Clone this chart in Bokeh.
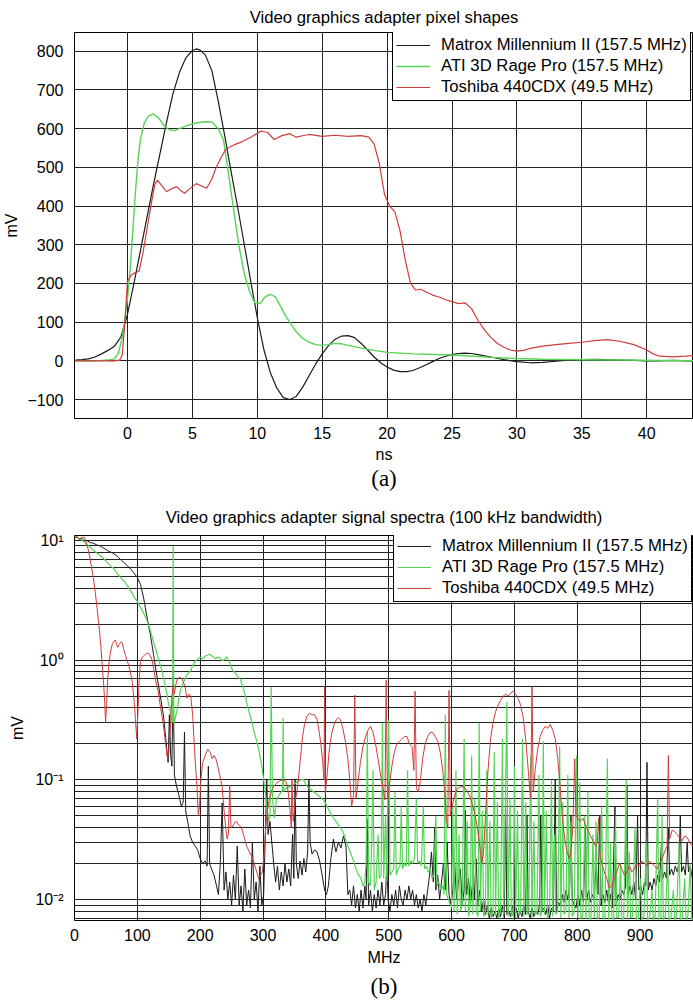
from bokeh.plotting import figure
from bokeh.models import (FixedTicker, Legend, LegendItem, Title, Range1d,
                          CustomJSTickFormatter)
from bokeh.layouts import column
from bokeh.embed import file_html
from bokeh.resources import INLINE

FONT = "Liberation Sans"
SERIF = "Liberation Serif"
BLACK = "#1a1a1a"
GREEN = "#55d455"
RED = "#d03c3c"

# ---------------- (a) pixel shapes: time (ns) vs mV ----------------
matrox_t = [-4, -3.5, -3, -2.5, -2, -1.5, -1, -0.5, 0, 0.5, 1, 1.5, 2, 2.5, 3, 3.5, 4, 4.5, 5, 5.3,
            5.6, 6, 6.5, 7, 7.5, 8, 8.5, 9, 9.5, 10, 10.5, 11, 11.5, 12, 12.5, 13, 13.5, 14, 14.5, 15,
            15.5, 16, 16.5, 17, 17.5, 18, 18.5, 19, 19.5, 20, 20.5, 21, 21.5, 22, 22.5, 23, 23.5, 24,
            24.5, 25, 25.5, 26, 26.5, 27, 28, 29, 30, 31, 32, 33, 34, 35, 36, 37, 38, 39, 40, 41, 42,
            43, 44]
matrox_mv = [2, 3, 5, 10, 18, 27, 38, 62, 120, 200, 285, 370, 455, 535, 615, 690, 745, 783, 802, 806,
             803, 790, 750, 670, 580, 486, 395, 300, 205, 112, 30, -30, -70, -95, -100, -92, -68, -38, -8, 18,
             40, 56, 64, 65, 60, 45, 28, 10, -5, -16, -24, -28, -28, -25, -18, -10, -2, 6,
             12, 16, 19, 20, 19, 16, 10, 3, -2, -5, -4, -1, 2, 3, 4, 3, 2, 1, 0, 0, 1,
             0, 0]

ati_t = [-4, -3, -2, -1.5, -1, -0.7, -0.4, -0.2, 0, 0.2, 0.4, 0.6, 0.8, 1, 1.3, 1.6, 2, 2.4, 2.8, 3.2,
         3.6, 4, 4.5, 5, 5.5, 6, 6.5, 7, 7.4, 7.8, 8.2, 8.6, 9, 9.4, 9.8, 10.2, 10.6, 11, 11.4, 11.8,
         12.2, 12.6, 13, 13.5, 14, 14.5, 15, 15.5, 16, 16.5, 17, 18, 19, 20, 21, 22, 23, 24, 25, 26,
         28, 30, 32, 35, 38, 41, 44]
ati_mv = [0, 0, 1, 2, 5, 20, 60, 110, 160, 235, 330, 430, 515, 573, 615, 632, 638, 628, 608, 597,
          595, 600, 607, 612, 616, 618, 617, 600, 570, 480, 385, 295, 225, 180, 150, 148, 165, 172, 165, 140,
          115, 95, 75, 58, 48, 42, 40, 42, 45, 44, 40, 33, 27, 22, 20, 18, 17, 16, 15, 13,
          9, 6, 4, 3, 2, 1, 0]

toshiba_t = [-4, -3, -2, -1, -0.6, -0.4, -0.2, 0, 0.3, 0.6, 0.9, 1.2, 1.5, 1.8, 2.1, 2.3, 2.6, 3.0, 3.4,
             3.8, 4.1, 4.4, 4.8, 5.3, 5.7, 6.1, 6.5, 6.8, 7.2, 7.6, 8.2, 8.8, 9.5, 10.3, 10.8, 11.3, 11.9,
             12.5, 13, 13.4, 14, 15, 16, 17, 18, 18.6, 19, 19.4, 19.8, 20.2, 20.6, 21, 21.4, 21.8, 22.2,
             22.6, 23, 23.5, 24, 24.5, 25, 25.5, 26, 26.5, 27, 27.5, 28, 28.5, 29, 29.5, 30, 30.5, 31,
             32, 33, 34, 35, 36, 37, 38, 39, 40, 40.5, 41, 42, 43, 44]
toshiba_mv = [0, 0, 0, 0, 2, 15, 100, 205, 222, 228, 232, 280, 340, 400, 455, 467, 455, 437, 445,
              450, 440, 433, 445, 458, 452, 446, 470, 497, 525, 548, 558, 566, 578, 594, 590, 572, 582,
              587, 578, 581, 585, 580, 583, 580, 582, 578, 560, 510, 430, 400, 385, 335, 260, 200, 183,
              185, 178, 170, 165, 158, 153, 148, 150, 135, 105, 80, 60, 45, 35, 28, 25, 27, 32,
              38, 42, 45, 48, 52, 55, 50, 42, 28, 18, 12, 10, 12, 15]

x_ticks_a = [0, 5, 10, 15, 20, 25, 30, 35, 40]
y_ticks_a = [-100, 0, 100, 200, 300, 400, 500, 600, 700, 800]

# ---------------- (b) spectra: (MHz, mV) ----------------
matrox_spec = [
    (0, 10.5), (4, 10.8), (8, 10.2), (12, 10.4), (16, 9.9), (20, 10.0), (25, 9.6), (30, 9.5), (35, 9.2),
    (41, 9.0), (47, 8.6), (53, 8.2), (60, 7.9), (68, 7.4), (75, 6.8), (82, 6.3), (88, 5.9), (94, 5.4),
    (100, 4.9), (105, 4.3), (110, 3.3), (116, 2.2), (121, 1.6), (126, 1.1), (130, 0.8), (134, 0.6),
    (138, 0.45), (142, 0.33), (146, 0.2), (149, 0.14), (151, 0.35), (153, 0.16), (155, 0.13), (157, 0.7),
    (159, 0.11), (162, 0.09), (166, 0.075), (170, 0.06), (173, 0.065), (175, 0.25), (177, 0.055),
    (180, 0.045), (184, 0.034), (188, 0.03), (192, 0.028), (196, 0.026), (200, 0.022), (204, 0.02),
    (208, 0.021), (211, 0.019), (213, 0.13), (215, 0.02), (218, 0.018), (222, 0.016), (226, 0.013),
    (229, 0.011), (232, 0.02), (235, 0.064), (238, 0.012), (241, 0.017), (244, 0.01), (247, 0.014),
    (250, 0.009), (253, 0.016), (256, 0.01), (259, 0.028), (262, 0.009), (265, 0.013), (268, 0.008),
    (271, 0.018), (274, 0.009), (277, 0.012), (280, 0.0085), (283, 0.03), (286, 0.01), (289, 0.014),
    (292, 0.008), (295, 0.019), (298, 0.009), (301, 0.011), (304, 0.04), (306, 0.1), (308, 0.035),
    (311, 0.045), (314, 0.03), (317, 0.02), (320, 0.014), (323, 0.019), (326, 0.012), (329, 0.017),
    (332, 0.013), (335, 0.02), (338, 0.014), (341, 0.018), (344, 0.013), (347, 0.035), (349, 0.015),
    (351, 0.1), (353, 0.02), (356, 0.015), (359, 0.021), (362, 0.016), (365, 0.022), (368, 0.017),
    (371, 0.025), (373, 0.1), (375, 0.03), (378, 0.024), (382, 0.026), (386, 0.025), (390, 0.021),
    (394, 0.016), (398, 0.012), (401, 0.011), (404, 0.013), (408, 0.022), (412, 0.032), (416, 0.025),
    (420, 0.03), (424, 0.027), (428, 0.034), (432, 0.028), (435, 0.011), (438, 0.012), (441, 0.009),
    (444, 0.013), (447, 0.0085), (450, 0.011), (453, 0.008), (456, 0.012), (459, 0.0085), (462, 0.013),
    (464, 0.01), (466, 0.047), (468, 0.009), (471, 0.012), (474, 0.008), (477, 0.011), (480, 0.0085),
    (483, 0.012), (486, 0.009), (489, 0.014), (492, 0.009), (495, 0.011), (497, 0.02), (499, 0.01),
    (502, 0.008), (505, 0.011), (508, 0.009), (511, 0.012), (514, 0.0085), (517, 0.013), (520, 0.01),
    (523, 0.009), (526, 0.012), (529, 0.01), (532, 0.013), (535, 0.01), (538, 0.012), (541, 0.009),
    (544, 0.011), (547, 0.0085), (550, 0.01), (553, 0.008), (556, 0.011), (559, 0.009), (562, 0.012),
    (565, 0.016), (568, 0.025), (571, 0.014), (573, 0.04), (575, 0.012), (578, 0.016), (581, 0.01),
    (584, 0.014), (587, 0.02), (590, 0.012), (593, 0.03), (596, 0.011), (599, 0.009), (602, 0.012),
    (605, 0.02), (608, 0.01), (611, 0.014), (614, 0.018), (617, 0.009), (620, 0.012), (622, 0.056),
    (624, 0.011), (627, 0.015), (630, 0.009), (633, 0.013), (636, 0.01), (639, 0.022), (642, 0.009),
    (645, 0.012), (648, 0.008), (651, 0.01), (654, 0.0075), (657, 0.009), (660, 0.007), (663, 0.0085),
    (666, 0.0072), (669, 0.008), (672, 0.007), (675, 0.0085), (678, 0.0072), (681, 0.009), (684, 0.007),
    (686, 0.07), (688, 0.0075), (691, 0.008), (694, 0.0072), (697, 0.009), (700, 0.007), (703, 0.0085),
    (706, 0.007), (709, 0.008), (712, 0.0072), (715, 0.009), (718, 0.0075), (720, 0.05), (722, 0.008),
    (725, 0.007), (728, 0.0085), (731, 0.0072), (734, 0.008), (737, 0.0075), (740, 0.009), (742, 0.05),
    (744, 0.008), (747, 0.0085), (750, 0.0075), (753, 0.009), (756, 0.007), (759, 0.0085), (762, 0.008),
    (765, 0.1), (767, 0.008), (770, 0.0095), (773, 0.009), (776, 0.011), (779, 0.0095), (782, 0.012),
    (785, 0.01), (788, 0.013), (790, 0.05), (792, 0.01), (795, 0.009), (798, 0.0085), (801, 0.011),
    (804, 0.009), (807, 0.012), (810, 0.0095), (813, 0.04), (815, 0.01), (818, 0.012), (821, 0.0095),
    (824, 0.011), (827, 0.01), (830, 0.02), (833, 0.011), (836, 0.05), (838, 0.009), (841, 0.011),
    (844, 0.0095), (847, 0.012), (850, 0.009), (853, 0.011), (856, 0.0085), (860, 0.06), (862, 0.009),
    (865, 0.011), (868, 0.01), (871, 0.012), (874, 0.011), (877, 0.013), (879, 0.09), (881, 0.011),
    (884, 0.013), (887, 0.011), (890, 0.014), (893, 0.01), (896, 0.05), (898, 0.012), (901, 0.013),
    (904, 0.011), (907, 0.014), (909, 0.013), (911, 0.14), (913, 0.012), (916, 0.014), (919, 0.012),
    (922, 0.015), (925, 0.013), (928, 0.016), (931, 0.014), (934, 0.03), (936, 0.015), (939, 0.017),
    (942, 0.015), (945, 0.04), (947, 0.016), (950, 0.018), (953, 0.016), (956, 0.019), (959, 0.017),
    (962, 0.02), (964, 0.05), (966, 0.017), (969, 0.019), (972, 0.016), (975, 0.03), (977, 0.017),
    (980, 0.019), (983, 0.015), (985, 0.016),
]

ati_spec = [
    (0, 10.8), (5, 10.5), (10, 10.2), (15, 9.8), (20, 9.2), (25, 8.8), (30, 8.3), (35, 7.9), (41, 7.5),
    (47, 7.0), (53, 6.5), (58, 6.1), (63, 5.8), (69, 5.2), (75, 4.8), (80, 4.5), (84, 4.2), (88, 3.9),
    (92, 3.6), (96, 3.3), (100, 3.1), (104, 2.8), (108, 2.6), (112, 2.35), (116, 2.1), (121, 1.75),
    (126, 1.4), (130, 1.2), (134, 1.0), (137, 0.9), (140, 0.78), (143, 0.66), (146, 0.56), (149, 0.45),
    (152, 0.38), (154, 0.33), (156, 0.3), (157, 9.0), (158, 0.3), (160, 0.32), (163, 0.38), (166, 0.47),
    (169, 0.57), (172, 0.63), (175, 0.68), (178, 0.74), (181, 0.78), (185, 0.82), (188, 0.9), (191, 0.96),
    (194, 1.0), (197, 1.03), (200, 1.06), (203, 1.03), (206, 1.05), (209, 1.09), (212, 1.1), (215, 1.12),
    (218, 1.09), (221, 1.06), (224, 1.03), (227, 1.05), (230, 1.06), (233, 1.02), (236, 0.99), (239, 1.02),
    (242, 1.07), (245, 1.0), (248, 0.92), (251, 0.84), (254, 0.8), (257, 0.77), (260, 0.73), (264, 0.69),
    (268, 0.6), (272, 0.5), (275, 0.42), (279, 0.35), (283, 0.29), (287, 0.24), (290, 0.21), (294, 0.17),
    (297, 0.14), (300, 0.11), (303, 0.085), (306, 0.06), (309, 0.045), (311, 0.05), (313, 0.6), (315, 0.07),
    (318, 0.048), (321, 0.066), (325, 0.074), (329, 0.079), (331, 0.082), (332, 0.33), (333, 0.08),
    (336, 0.085), (340, 0.086), (344, 0.089), (348, 0.091), (352, 0.094), (356, 0.098), (360, 0.1),
    (364, 0.101), (368, 0.092), (372, 0.086), (376, 0.083), (380, 0.08), (384, 0.077), (388, 0.074),
    (392, 0.071), (396, 0.068), (400, 0.063), (404, 0.057), (408, 0.052), (412, 0.048), (416, 0.045),
    (420, 0.042), (424, 0.039), (428, 0.036), (432, 0.031), (436, 0.027), (440, 0.024), (444, 0.021),
    (448, 0.018), (452, 0.016), (456, 0.015), (459, 0.013), (462, 0.014), (464, 0.02), (466, 0.25),
    (468, 0.014), (471, 0.013), (473, 0.03), (475, 0.12), (477, 0.012), (480, 0.014), (483, 0.035),
    (485, 0.015), (488, 0.016), (490, 0.3), (492, 0.015), (495, 0.05), (497, 0.014), (500, 0.32),
    (502, 0.016), (505, 0.017), (508, 0.018), (510, 0.08), (512, 0.016), (515, 0.018), (518, 0.019),
    (520, 0.06), (522, 0.018), (525, 0.02), (528, 0.019), (530, 0.12), (532, 0.019), (535, 0.021),
    (538, 0.02), (541, 0.022), (544, 0.07), (546, 0.02), (549, 0.021), (552, 0.019), (555, 0.06),
    (557, 0.018), (560, 0.019), (563, 0.017), (566, 0.018), (569, 0.015), (572, 0.016), (575, 0.05),
    (577, 0.013), (580, 0.014), (583, 0.012), (586, 0.013), (588, 0.011), (590, 0.35), (592, 0.011),
    (595, 0.01), (598, 0.009), (600, 0.0085), (602, 0.06), (604, 0.008), (607, 0.12), (609, 0.0075),
    (612, 0.035), (614, 0.008), (617, 0.009), (620, 0.22), (622, 0.008), (625, 0.045), (627, 0.0072),
    (630, 0.009), (632, 0.16), (634, 0.0075), (637, 0.07), (639, 0.008), (642, 0.0072), (644, 0.3),
    (646, 0.008), (649, 0.055), (651, 0.0072), (654, 0.008), (656, 0.12), (658, 0.0075), (661, 0.045),
    (663, 0.007), (666, 0.008), (668, 0.17), (670, 0.0075), (673, 0.065), (675, 0.007), (678, 0.008),
    (681, 0.22), (683, 0.0075), (686, 0.08), (688, 0.45), (690, 0.0072), (693, 0.07), (695, 0.008),
    (698, 0.0072), (700, 0.13), (702, 0.007), (705, 0.055), (707, 0.0075), (710, 0.008), (713, 0.22),
    (715, 0.0072), (718, 0.065), (720, 0.0075), (723, 0.008), (726, 0.16), (728, 0.007), (731, 0.045),
    (733, 0.0075), (736, 0.008), (739, 0.11), (741, 0.0072), (744, 0.008), (746, 0.21), (748, 0.0075),
    (751, 0.055), (753, 0.007), (756, 0.0078), (759, 0.1), (761, 0.0072), (764, 0.035), (766, 0.0075),
    (769, 0.008), (772, 0.19), (774, 0.007), (777, 0.065), (779, 0.0075), (782, 0.008), (785, 0.11),
    (787, 0.007), (790, 0.045), (792, 0.0072), (795, 0.0078), (799, 0.16), (801, 0.007), (804, 0.095),
    (806, 0.0068), (809, 0.0075), (812, 0.05), (814, 0.0068), (817, 0.08), (819, 0.007), (822, 0.0068),
    (825, 0.035), (827, 0.007), (830, 0.045), (832, 0.0068), (835, 0.0072), (839, 0.06), (841, 0.0068),
    (844, 0.0072), (848, 0.15), (850, 0.0068), (853, 0.03), (855, 0.007), (858, 0.0068), (861, 0.05),
    (863, 0.007), (866, 0.0072), (869, 0.02), (871, 0.0068), (874, 0.007), (878, 0.1), (880, 0.0068),
    (883, 0.025), (885, 0.007), (888, 0.0072), (892, 0.04), (894, 0.0068), (897, 0.007), (901, 0.015),
    (903, 0.0068), (906, 0.0072), (910, 0.03), (912, 0.0068), (915, 0.007), (919, 0.012), (921, 0.0068),
    (924, 0.0072), (928, 0.07), (930, 0.0068), (933, 0.007), (935, 0.05), (937, 0.0068), (940, 0.0072),
    (944, 0.02), (946, 0.0068), (949, 0.007), (953, 0.012), (955, 0.0068), (958, 0.0072), (962, 0.03),
    (964, 0.0068), (967, 0.007), (971, 0.015), (973, 0.0068), (976, 0.0072), (980, 0.02), (982, 0.0068),
    (985, 0.007),
]

toshiba_spec = [
    (0, 10.4), (4, 10.7), (8, 10.3), (12, 10.6), (15, 10.7), (18, 10.0), (21, 8.8), (24, 7.4), (27, 6.0),
    (30, 4.9), (33, 3.7), (36, 2.7), (39, 1.95), (42, 1.3), (44, 0.92), (46, 0.68), (48, 0.45), (49.5, 0.3),
    (51, 0.42), (53, 0.72), (55, 0.95), (57, 1.15), (60, 1.35), (63, 1.45), (65, 1.47), (67, 1.35),
    (69, 1.28), (71, 1.36), (74, 1.42), (76, 1.4), (78, 1.25), (81, 1.1), (85, 0.95), (89, 0.8), (92, 0.65),
    (95, 0.45), (97, 0.32), (99, 0.22), (101, 0.38), (103, 0.7), (105, 0.98), (108, 1.06), (111, 1.1),
    (114, 1.13), (117, 1.15), (120, 1.1), (123, 1.02), (126, 0.85), (129, 0.68), (133, 0.55), (137, 0.4),
    (141, 0.3), (145, 0.2), (148, 0.15), (150, 0.17), (153, 0.3), (155, 0.5), (157, 0.62), (159, 0.52),
    (161, 0.62), (164, 0.7), (167, 0.72), (170, 0.71), (173, 0.66), (176, 0.6), (179, 0.48), (182, 0.52),
    (185, 0.5), (188, 0.35), (191, 0.18), (193, 0.12), (195, 0.088), (197, 0.05), (199, 0.06), (201, 0.1),
    (204, 0.14), (208, 0.16), (212, 0.18), (216, 0.17), (219, 0.15), (222, 0.16), (225, 0.15), (228, 0.13),
    (231, 0.11), (235, 0.087), (238, 0.055), (241, 0.038), (243, 0.032), (245, 0.036), (247, 0.09),
    (249, 0.04), (252, 0.041), (255, 0.044), (258, 0.045), (261, 0.042), (264, 0.041), (267, 0.038),
    (270, 0.033), (274, 0.028), (278, 0.025), (282, 0.023), (286, 0.02), (290, 0.017), (293, 0.015),
    (296, 0.016), (299, 0.017), (302, 0.025), (305, 0.045), (308, 0.06), (311, 0.072), (314, 0.082),
    (317, 0.088), (321, 0.093), (325, 0.097), (329, 0.099), (333, 0.1), (337, 0.096), (340, 0.08),
    (343, 0.055), (345, 0.04), (346, 0.1), (348, 0.045), (351, 0.065), (354, 0.08), (357, 0.11),
    (360, 0.16), (363, 0.23), (366, 0.29), (370, 0.34), (374, 0.36), (378, 0.35), (382, 0.35), (386, 0.32),
    (389, 0.26), (392, 0.2), (395, 0.14), (397, 0.1), (398, 0.6), (399, 0.077), (402, 0.11), (405, 0.17),
    (409, 0.24), (413, 0.29), (417, 0.32), (420, 0.33), (423, 0.32), (427, 0.27), (431, 0.21), (435, 0.15),
    (438, 0.1), (441, 0.06), (444, 0.075), (446, 0.51), (448, 0.07), (451, 0.095), (455, 0.14), (459, 0.19),
    (463, 0.23), (467, 0.26), (471, 0.28), (475, 0.25), (479, 0.2), (483, 0.15), (487, 0.11), (491, 0.085),
    (494, 0.068), (496, 0.68), (498, 0.07), (501, 0.09), (505, 0.13), (509, 0.17), (513, 0.2), (517, 0.21),
    (521, 0.22), (525, 0.23), (529, 0.23), (533, 0.2), (537, 0.19), (540, 0.12), (542, 0.55), (544, 0.085),
    (547, 0.08), (550, 0.095), (554, 0.15), (558, 0.2), (562, 0.23), (566, 0.25), (570, 0.25), (574, 0.23),
    (578, 0.21), (582, 0.17), (586, 0.12), (589, 0.08), (592, 0.047), (594, 0.04), (596, 0.56), (598, 0.05),
    (601, 0.06), (605, 0.075), (609, 0.084), (613, 0.087), (617, 0.088), (621, 0.086), (625, 0.08),
    (629, 0.073), (633, 0.063), (637, 0.052), (641, 0.04), (645, 0.028), (648, 0.02), (651, 0.025),
    (654, 0.05), (658, 0.12), (662, 0.22), (666, 0.3), (670, 0.37), (674, 0.42), (678, 0.46), (682, 0.5),
    (686, 0.52), (690, 0.5), (694, 0.53), (698, 0.55), (702, 0.52), (706, 0.48), (710, 0.42), (714, 0.33),
    (718, 0.22), (721, 0.14), (724, 0.09), (726, 0.07), (728, 0.6), (730, 0.08), (733, 0.12), (737, 0.18),
    (741, 0.23), (745, 0.26), (749, 0.28), (753, 0.27), (757, 0.29), (761, 0.26), (765, 0.22), (769, 0.15),
    (772, 0.1), (775, 0.06), (778, 0.04), (781, 0.03), (784, 0.025), (787, 0.022), (790, 0.025),
    (793, 0.04), (796, 0.15), (798, 0.05), (801, 0.048), (805, 0.045), (809, 0.048), (813, 0.042),
    (817, 0.038), (821, 0.034), (825, 0.031), (829, 0.028), (832, 0.03), (834, 0.048), (836, 0.025),
    (839, 0.02), (843, 0.017), (847, 0.015), (851, 0.0125), (855, 0.013), (859, 0.015), (863, 0.017),
    (867, 0.02), (871, 0.018), (875, 0.016), (879, 0.017), (883, 0.019), (887, 0.017), (891, 0.018),
    (895, 0.02), (899, 0.019), (903, 0.021), (907, 0.02), (911, 0.019), (915, 0.021), (919, 0.02),
    (923, 0.019), (927, 0.018), (931, 0.02), (935, 0.022), (939, 0.025), (943, 0.028), (945, 0.16),
    (947, 0.032), (951, 0.038), (955, 0.037), (959, 0.035), (963, 0.033), (967, 0.031), (971, 0.034),
    (975, 0.033), (979, 0.03), (983, 0.028), (985, 0.029),
]

x_ticks_b = [0, 100, 200, 300, 400, 500, 600, 700, 800, 900]
y_ticks_b = [0.01, 0.1, 1, 10]
y_minor_b = [m * d for d in (0.001, 0.01, 0.1, 1, 10) for m in range(2, 10)]

labels = ["Matrox Millennium II (157.5 MHz)", "ATI 3D Rage Pro (157.5 MHz)", "Toshiba 440CDX (49.5 MHz)"]


def style(p):
    p.outline_line_color = "black"
    p.outline_line_width = 1
    p.outline_line_alpha = 1
    p.background_fill_color = "white"
    p.border_fill_color = "white"
    for g in p.grid:
        g.grid_line_color = "#222222"
        g.grid_line_width = 1
        g.grid_line_alpha = 1
    for ax in p.axis:
        ax.axis_line_color = None
        ax.major_tick_line_color = None
        ax.minor_tick_line_color = None
        ax.major_label_text_font = FONT
        ax.major_label_text_font_size = "16px"
        ax.major_label_text_color = "black"
        ax.axis_label_text_font = FONT
        ax.axis_label_text_font_size = "16px"
        ax.axis_label_text_font_style = "normal"
        ax.axis_label_text_color = "black"
        ax.major_label_standoff = 5
    p.xaxis.major_label_standoff = 2
    p.title.text_font = FONT
    p.title.text_font_size = "16.7px"
    p.title.text_font_style = "normal"
    p.title.text_color = "black"
    p.title.align = "center"


def make_legend(renderers, loc):
    items = [LegendItem(label=l, renderers=[r]) for l, r in zip(labels, renderers)]
    leg = Legend(items=items, location=loc, label_text_font=FONT, label_text_font_size="16.7px",
                 label_text_line_height=1.0,
                 label_text_color="black", border_line_color="black", border_line_width=1,
                 border_line_alpha=1, background_fill_color="white", background_fill_alpha=1,
                 padding=3, spacing=1, margin=0, glyph_width=34, glyph_height=16, label_height=16,
                 label_standoff=11)
    return leg


# ---------------- figure (a) ----------------
pa = figure(width=693, height=495, x_range=Range1d(-4.08, 43.6), y_range=Range1d(-149, 848.5),
            output_backend="svg", toolbar_location=None,
            title="Video graphics adapter pixel shapes",
            min_border_left=73, min_border_right=0, min_border_top=30, min_border_bottom=77)
style(pa)
pa.title.standoff = 11
pa.title.text_line_height = 1.0
pa.xaxis.ticker = FixedTicker(ticks=x_ticks_a)
pa.yaxis.ticker = FixedTicker(ticks=y_ticks_a)
pa.xaxis.axis_label = "ns"
pa.yaxis.axis_label = "mV"
pa.xaxis.axis_label_standoff = 4
pa.yaxis.axis_label_standoff = 4

ra1 = pa.line(matrox_t, matrox_mv, line_color=BLACK, line_width=1.2)
ra2 = pa.line(ati_t, ati_mv, line_color=GREEN, line_width=1.4)
ra3 = pa.line(toshiba_t, toshiba_mv, line_color=RED, line_width=1.2)
pa.add_layout(make_legend([ra1, ra2, ra3], (318, 317)))
pa.add_layout(Title(text="(a)", align="center", text_font=SERIF, text_font_size="23px",
                    text_font_style="normal", text_color="black", standoff=-3), "below")

# ---------------- figure (b) ----------------
pb = figure(width=693, height=506, x_range=Range1d(0, 985), y_range=Range1d(0.00668, 11.01),
            y_axis_type="log", output_backend="svg", toolbar_location=None,
            title="Video graphics adapter signal spectra (100 kHz bandwidth)",
            min_border_left=74, min_border_right=0, min_border_top=40, min_border_bottom=80)
style(pb)
pb.title.standoff = 18
pb.xaxis.ticker = FixedTicker(ticks=x_ticks_b)
pb.yaxis.ticker = FixedTicker(ticks=y_ticks_b, minor_ticks=y_minor_b)
pb.yaxis.formatter = CustomJSTickFormatter(code="""
    const e = Math.round(Math.log10(tick));
    const sup = {"-2": "\u207b\u00b2", "-1": "\u207b\u00b9", "0": "\u2070", "1": "\u00b9"};
    return "10" + sup[String(e)];
""")
for g in pb.ygrid:
    g.minor_grid_line_color = "#222222"
    g.minor_grid_line_alpha = 1
pb.xaxis.axis_label = "MHz"
pb.yaxis.axis_label = "mV"
pb.xaxis.axis_label_standoff = 5
pb.yaxis.axis_label_standoff = 6

mf, mv = zip(*matrox_spec)
af, av = zip(*ati_spec)
tf, tv = zip(*toshiba_spec)
rb1 = pb.line(list(mf), list(mv), line_color=BLACK, line_width=1)
rb2 = pb.line(list(af), list(av), line_color=GREEN, line_width=1.2)
rb3 = pb.line(list(tf), list(tv), line_color=RED, line_width=1)
pb.add_layout(make_legend([rb1, rb2, rb3], (319, 318)))
pb.add_layout(Title(text="(b)", align="center", text_font=SERIF, text_font_size="23px",
                    text_font_style="normal", text_color="black", standoff=6), "below")

layout = column(pa, pb)
open("out.html", "w").write(file_html(layout, INLINE))
